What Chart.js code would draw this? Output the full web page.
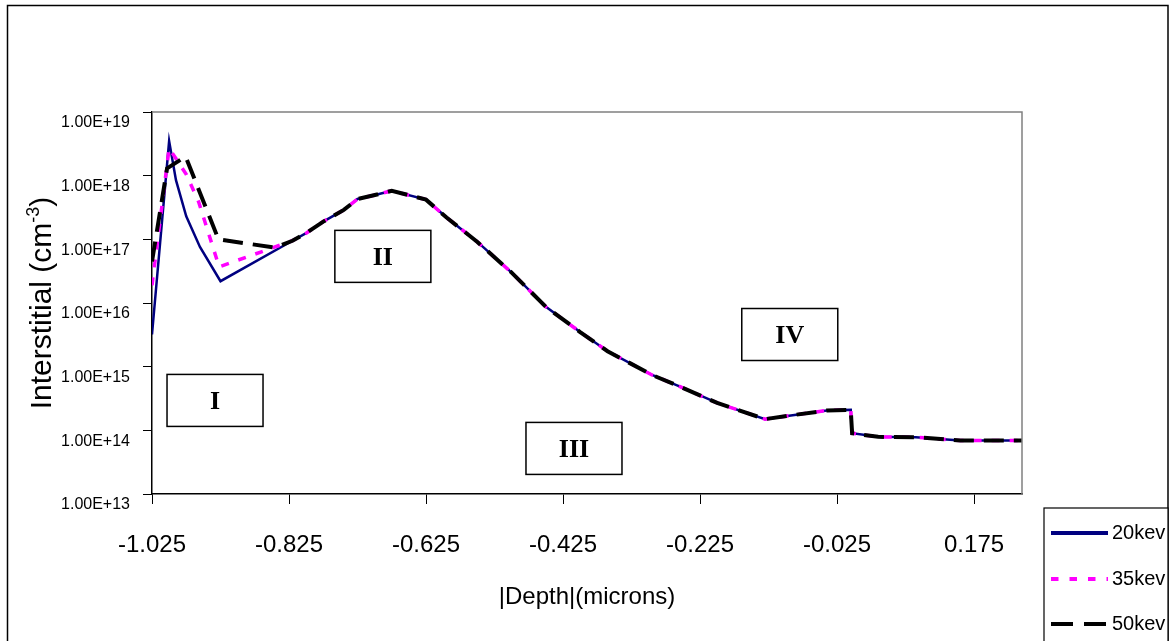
<!DOCTYPE html>
<html>
<head>
<meta charset="utf-8">
<script src="https://cdn.jsdelivr.net/npm/chart.js@4.4.1/dist/chart.umd.min.js"></script>
<style>
  html, body { margin: 0; padding: 0; background: #fff; }
  #wrap { width: 1175px; height: 641px; }
</style>
</head>
<body>
<div id="wrap"><canvas id="depthChart" width="1175" height="641"></canvas></div>
<script>
// series names
const seriesLabels = ['20kev', '35kev', '50kev'];

// near-surface part of each profile, where the energies differ
const depth20 = [-1.025, -1.0, -0.99, -0.975, -0.955, -0.925];
const values20 = [3.2e15, 3.5e18, 8.5e17, 2.3e17, 7.6e16, 2.2e16];

const depth35 = [-1.025, -1.0, -0.975, -0.957, -0.927];
const values35 = [1.9e16, 2.7e18, 1.05e18, 3.9e17, 3.7e16];

const depth50 = [-1.025, -1.003, -0.976, -0.928, -0.845];
const values50 = [4.5e16, 1.3e18, 2.0e18, 1.0e17, 7.4e16];

// deeper part, the same for all three energies
const sharedDepth = [-0.82, -0.80, -0.775, -0.745, -0.725, -0.695, -0.675, -0.625, -0.595, -0.55,
  -0.50, -0.45, -0.40, -0.36, -0.295, -0.255, -0.20, -0.13, -0.095, -0.04,
  -0.005, -0.003, 0.035, 0.09, 0.155, 0.245];
const sharedValues = [9.5e16, 1.25e17, 1.9e17, 2.9e17, 4.3e17, 5.1e17, 5.8e17, 4.2e17, 2.2e17, 9.1e16,
  3.0e16, 8.7e15, 3.5e15, 1.75e15, 7.4e14, 4.9e14, 2.7e14, 1.5e14, 1.7e14, 2.05e14,
  2.1e14, 9.0e13, 7.9e13, 7.8e13, 6.9e13, 6.9e13];

// axis ticks
const depthTicks = [-1.025, -0.825, -0.625, -0.425, -0.225, -0.025, 0.175];
const concTicks = [1e13, 1e14, 1e15, 1e16, 1e17, 1e18, 1e19];

// region labels, placed by data coordinates
const regionNames = ['I', 'II', 'III', 'IV'];
const regionDepth = [-0.933, -0.688, -0.409, -0.094];
const regionConc = [2.95e14, 5.4e16, 5.2e13, 3.2e15];

const sans = "'Liberation Sans', Arial, sans-serif";

function toPoints(headX, headY) {
  const xs = headX.concat(sharedDepth);
  const ys = headY.concat(sharedValues);
  return xs.map((x, i) => ({ x: x, y: ys[i] }));
}

const datasets = [
  {
    label: seriesLabels[0],
    data: toPoints(depth20, values20),
    borderColor: '#000080',
    borderWidth: 2.5,
    order: 3,
  },
  {
    label: seriesLabels[1],
    data: toPoints(depth35, values35),
    borderColor: '#ff00ff',
    borderWidth: 3.5,
    borderDash: [8, 10],
    order: 2,
  },
  {
    label: seriesLabels[2],
    data: toPoints(depth50, values50),
    borderColor: '#000000',
    borderWidth: 4,
    borderDash: [20, 10],
    order: 1,
  },
];

// frame, titles, region boxes and legend
const decorations = {
  id: 'decorations',
  beforeDraw(chart) {
    const ctx = chart.ctx;
    ctx.save();
    ctx.fillStyle = '#fff';
    ctx.fillRect(0, 0, chart.width, chart.height);
    ctx.restore();
  },
  afterDraw(chart) {
    const ctx = chart.ctx;
    const { left, right, top, bottom } = chart.chartArea;
    const xs = chart.scales.x;
    const ys = chart.scales.y;
    ctx.save();

    // outer frame
    ctx.strokeStyle = '#000';
    ctx.lineWidth = 1.5;
    ctx.strokeRect(7.5, 5.5, 1160.5, 700);

    // plot area edge (top and right)
    ctx.strokeStyle = '#808080';
    ctx.lineWidth = 1.5;
    ctx.beginPath();
    ctx.moveTo(left, top);
    ctx.lineTo(right, top);
    ctx.lineTo(right, bottom);
    ctx.stroke();

    // region boxes
    ctx.font = 'bold 26px "Liberation Serif", "Times New Roman", serif';
    ctx.textAlign = 'center';
    ctx.textBaseline = 'middle';
    regionNames.forEach((name, i) => {
      const cx = xs.getPixelForValue(regionDepth[i]);
      const cy = ys.getPixelForValue(regionConc[i]);
      ctx.fillStyle = '#fff';
      ctx.fillRect(cx - 48, cy - 26, 96, 52);
      ctx.strokeStyle = '#000';
      ctx.lineWidth = 1.5;
      ctx.strokeRect(cx - 48, cy - 26, 96, 52);
      ctx.fillStyle = '#000';
      ctx.fillText(name, cx, cy + 2);
    });

    // y title with superscript
    ctx.save();
    ctx.translate(51, (top + bottom) / 2);
    ctx.rotate(-Math.PI / 2);
    ctx.textAlign = 'left';
    ctx.textBaseline = 'alphabetic';
    ctx.fillStyle = '#000';
    const mainText = 'Interstitial (cm';
    const supText = '-3';
    const endText = ')';
    ctx.font = '30px ' + sans;
    const w1 = ctx.measureText(mainText).width;
    const w3 = ctx.measureText(endText).width;
    ctx.font = '18px ' + sans;
    const w2 = ctx.measureText(supText).width;
    let x0 = -(w1 + w2 + w3) / 2;
    ctx.font = '30px ' + sans;
    ctx.fillText(mainText, x0, 0);
    ctx.font = '18px ' + sans;
    ctx.fillText(supText, x0 + w1, -12);
    ctx.font = '30px ' + sans;
    ctx.fillText(endText, x0 + w1 + w2, 0);
    ctx.restore();

    // x title
    ctx.font = '24px ' + sans;
    ctx.textAlign = 'center';
    ctx.textBaseline = 'middle';
    ctx.fillStyle = '#000';
    ctx.fillText('|Depth|(microns)', (left + right) / 2, 597);

    // legend
    const lx = 1044, ly = 508;
    ctx.fillStyle = '#fff';
    ctx.fillRect(lx, ly, 124, 140);
    ctx.strokeStyle = '#000';
    ctx.lineWidth = 1.2;
    ctx.strokeRect(lx, ly, 124, 140);
    const rowY = [533, 579, 624];
    chart.data.datasets.forEach((ds, i) => {
      ctx.save();
      ctx.strokeStyle = ds.borderColor;
      ctx.lineWidth = 4;
      ctx.setLineDash(ds.borderDash ? (i === 1 ? [7.5, 11] : [22, 11]) : []);
      ctx.beginPath();
      ctx.moveTo(1051, rowY[i]);
      ctx.lineTo(1108, rowY[i]);
      ctx.stroke();
      ctx.restore();
      ctx.font = '20px ' + sans;
      ctx.textAlign = 'left';
      ctx.textBaseline = 'middle';
      ctx.fillStyle = '#000';
      ctx.fillText(ds.label, 1112, rowY[i]);
    });

    ctx.restore();
  },
};

new Chart(document.getElementById('depthChart'), {
  type: 'line',
  data: { datasets: datasets },
  options: {
    responsive: false,
    animation: false,
    layout: { padding: { top: 112, right: 153, left: 0, bottom: 0 } },
    plugins: {
      legend: { display: false },
      tooltip: { enabled: false },
    },
    elements: {
      point: { radius: 0 },
      line: { tension: 0 },
    },
    scales: {
      x: {
        type: 'linear',
        min: -1.025,
        max: 0.245,
        afterBuildTicks: (scale) => {
          scale.ticks = depthTicks.map((v) => ({ value: v }));
        },
        afterFit: (scale) => {
          scale.height = 147;
        },
        ticks: {
          callback: (v) => v.toFixed(3),
          font: { family: sans, size: 24 },
          color: '#000',
          padding: 27,
          maxRotation: 0,
          autoSkip: false,
        },
        grid: { drawOnChartArea: false, drawTicks: true, tickLength: 10, color: '#000', lineWidth: 1 },
        border: { color: '#000', width: 1.5 },
      },
      y: {
        type: 'logarithmic',
        min: 1e13,
        max: 1e19,
        afterBuildTicks: (scale) => {
          scale.ticks = concTicks.map((v) => ({ value: v }));
        },
        afterFit: (scale) => {
          scale.width = 152;
        },
        ticks: {
          callback: (v) => '1.00E+' + Math.round(Math.log10(v)),
          font: { family: sans, size: 16 },
          color: '#000',
          padding: 13,
          labelOffset: 11,
        },
        grid: { drawOnChartArea: false, drawTicks: true, tickLength: 9, color: '#000', lineWidth: 1 },
        border: { color: '#000', width: 1.5 },
      },
    },
  },
  plugins: [decorations],
});
</script>
</body>
</html>
